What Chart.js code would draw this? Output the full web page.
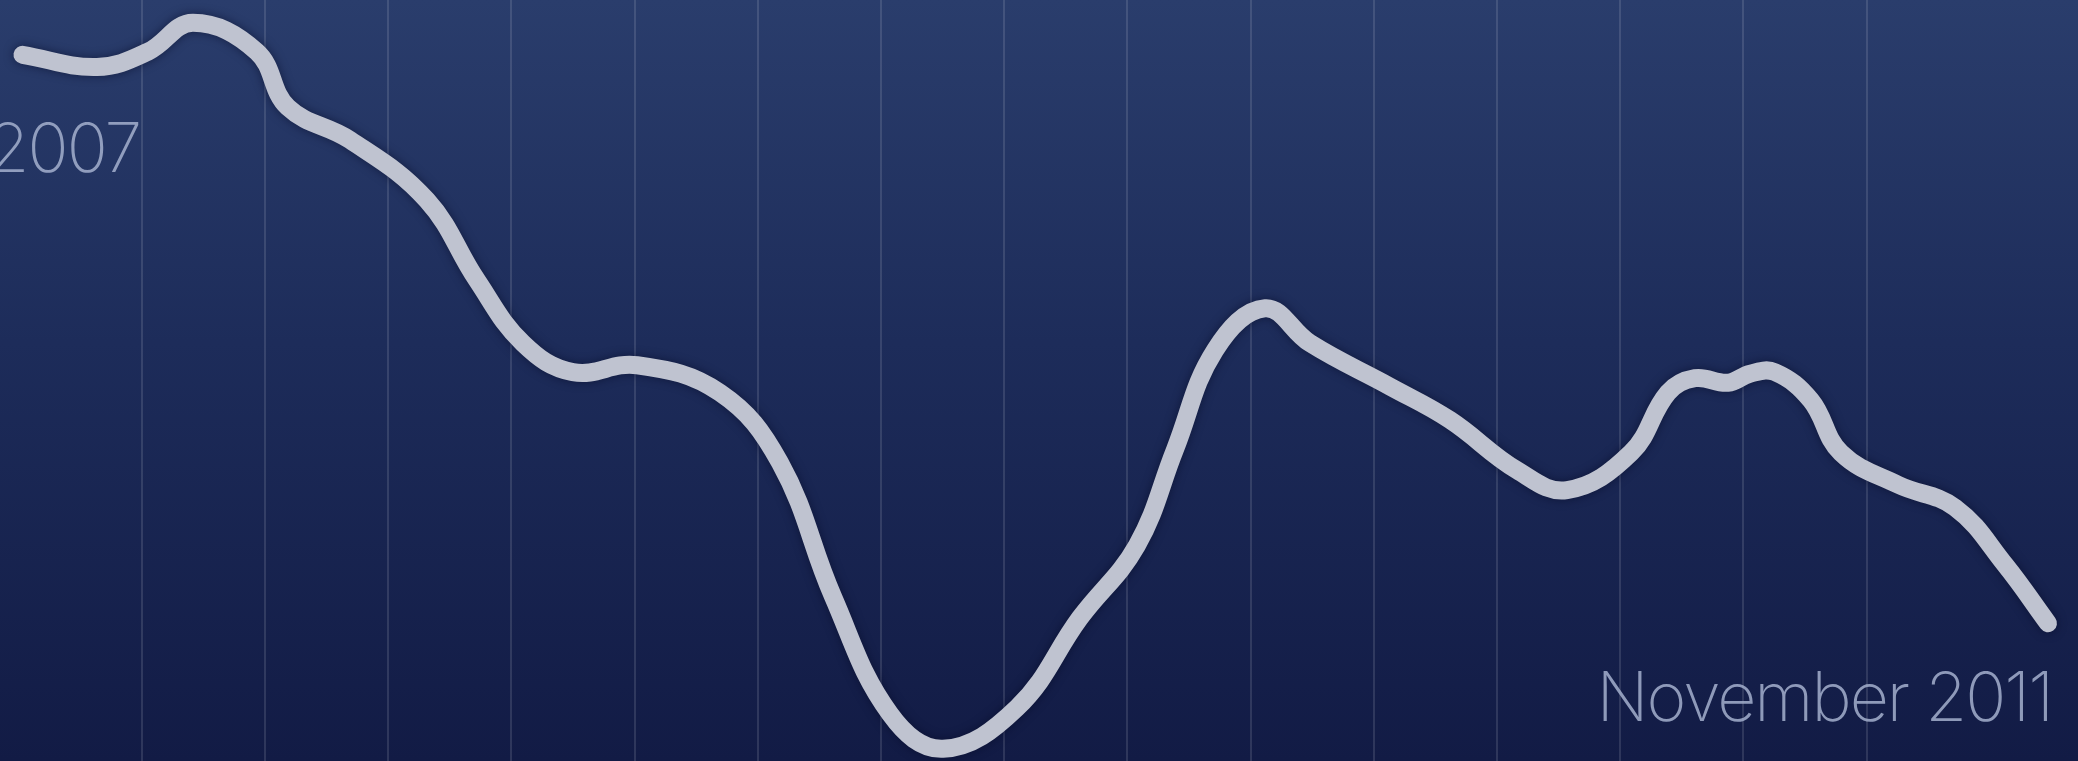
<!DOCTYPE html>
<html>
<head>
<meta charset="utf-8">
<script src="https://cdn.jsdelivr.net/npm/chart.js@4"></script>
<style>
  html, body { margin: 0; padding: 0; }
  body { width: 2078px; height: 761px; overflow: hidden;
         background: linear-gradient(to bottom, #2a3d6c 0%, #1d2c5a 45%, #121b45 100%); }
  #wrap { position: relative; width: 2078px; height: 761px; }
</style>
</head>
<body>
<div id="wrap"><canvas id="myChart"></canvas></div>
<script>
// months since January 2007 (fractional where the curve turns)
const months = [0, 2.13, 3.59, 4.88, 6.71, 7.60, 9.38, 11.58, 13.01, 14.33,
  15.76, 17.60, 19.97, 21.69, 23.21, 24.84, 26.36, 28.48, 30.28, 31.91,
  33.00, 34.15, 35.58, 36.87, 39.16, 40.88, 42.80, 44.23, 46.06, 47.12,
  47.89, 48.84, 49.47, 50.18, 51.21, 52.07, 53.71, 55.34, 56.77, 58];
const values = [92.8, 91.2, 93.2, 97.0, 93.2, 85.9, 81.6, 73.7, 63.2, 54.9,
  51.1, 52.0, 48.4, 39.2, 21.6, 6.2, 1.6, 7.0, 18.8, 28.3,
  40.9, 54.0, 59.5, 54.9, 49.2, 44.8, 38.2, 35.6, 40.5, 48.4,
  50.3, 49.7, 50.9, 51.1, 47.4, 40.5, 36.3, 33.3, 25.8, 18.1];
const startLabel = "2007";
const endLabel = "November 2011";

const points = months.map((m, i) => ({ x: m, y: values[i] }));

const labelPlugin = {
  id: "cornerLabels",
  afterDraw(chart) {
    const c = chart.ctx;
    const a = chart.chartArea;
    c.save();
    c.fillStyle = "rgba(165, 176, 206, 0.85)";
    c.font = "200 68px Inter, Lato, sans-serif";
    c.letterSpacing = "-2px";
    c.textBaseline = "alphabetic";
    c.textAlign = "right";
    c.fillText(startLabel, a.left + 140, a.top + 172);
    c.fillText(endLabel, a.left + 2052, a.top + 721);
    c.restore();
  },
};

const shadowPlugin = {
  id: "lineShadow",
  beforeDatasetDraw(chart) {
    const c = chart.ctx;
    c.save();
    c.shadowColor = "rgba(5, 10, 35, 0.55)";
    c.shadowBlur = 10;
  },
  afterDatasetDraw(chart) {
    chart.ctx.restore();
  },
};

const ctx = document.getElementById("myChart").getContext("2d");
const myChart = new Chart(ctx, {
  type: "line",
  data: {
    datasets: [
      {
        label: "Index",
        data: points,
        backgroundColor: "transparent",
        borderColor: "rgb(191, 195, 208)",
        borderWidth: 18,
        borderCapStyle: "round",
        borderJoinStyle: "round",
        tension: 0.4,
        pointRadius: 0,
        clip: 20,
        xAxisID: "x",
      },
    ],
  },
  options: {
    responsive: true,
    maintainAspectRatio: false,
    animation: false,
    layout: { padding: 0 },
    plugins: { legend: { display: false }, tooltip: { enabled: false } },
    scales: {
      x: {
        type: "linear",
        min: -0.644,
        max: 58.86,
        display: false,
      },
      grid: {
        type: "linear",
        position: "bottom",
        min: -0.150,
        max: 16.716,
        ticks: { display: false, stepSize: 1 },
        border: { display: false },
        grid: {
          drawTicks: false,
          lineWidth: 2,
          color: (c) => (c.tick && c.tick.value >= 0 && c.tick.value <= 15 && Number.isInteger(c.tick.value))
            ? "rgba(255, 255, 255, 0.12)" : "transparent",
        },
      },
      y: {
        min: 0,
        max: 100,
        display: false,
      },
    },
  },
  plugins: [labelPlugin, shadowPlugin],
});
</script>
</body>
</html>
